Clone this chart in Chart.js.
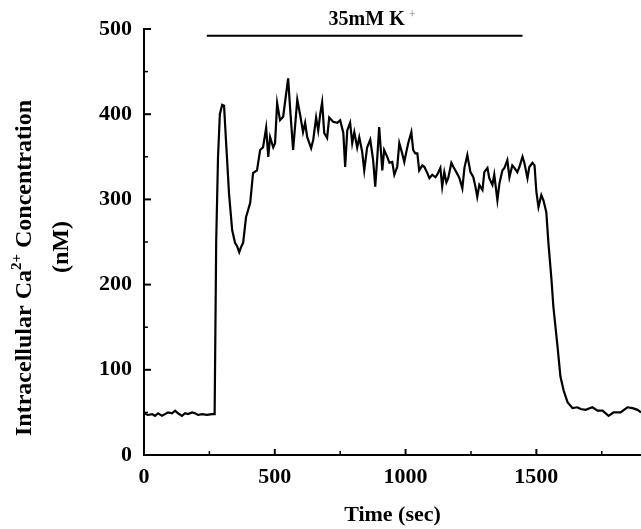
<!DOCTYPE html>
<html lang="en">
<head>
<meta charset="UTF-8" />
<title>Intracellular Ca2+ during 35mM K+</title>
<script src="https://cdn.jsdelivr.net/npm/chart.js"></script>
<style>
  body { margin: 0; background: #fff; }
  #wrap { width: 641px; height: 529px; }
</style>
</head>
<body>
<div id="wrap"><canvas id="caChart" width="641" height="529"></canvas></div>

<script>
  // trace: time (sec) and Ca2+ (nM), same order
  const timeSec = [
    0, 15, 31, 42, 54, 69, 80, 92, 107, 119,
    130, 145, 157, 168, 184, 195, 207, 222, 241, 260,
    270, 276, 283, 290, 299, 306, 314, 325, 337, 348,
    356, 364, 371, 379, 390, 406, 417, 432, 444, 455,
    467, 475, 482, 494, 501, 509, 520, 532, 551, 559,
    570, 586, 597, 608, 616, 624, 639, 647, 658, 666,
    674, 681, 689, 700, 708, 723, 739, 750, 762, 769,
    777, 788, 796, 804, 815, 823, 834, 842, 853, 865,
    876, 884, 892, 899, 911, 918, 930, 938, 949, 957,
    968, 976, 987, 995, 1003, 1010, 1022, 1029, 1037, 1045,
    1052, 1064, 1072, 1083, 1091, 1102, 1114, 1121, 1133, 1140,
    1148, 1156, 1163, 1175, 1183, 1194, 1206, 1217, 1225, 1236,
    1248, 1259, 1267, 1274, 1282, 1294, 1301, 1313, 1320, 1332,
    1339, 1351, 1359, 1370, 1378, 1389, 1397, 1408, 1416, 1427,
    1435, 1447, 1454, 1466, 1473, 1485, 1493, 1500, 1508, 1519,
    1527, 1538, 1546, 1558, 1565, 1581, 1592, 1604, 1619, 1638,
    1657, 1669, 1688, 1714, 1734, 1753, 1776, 1795, 1822, 1848,
    1868, 1887, 1900
  ];
  const caConc = [
    49, 47, 48, 46, 49, 46, 48, 50, 49, 52,
    49, 46, 49, 48, 50, 49, 47, 48, 47, 48,
    48, 250, 350, 400, 411, 410, 366, 307, 264, 249,
    245, 238, 244, 249, 279, 296, 331, 334, 358, 361,
    384, 350, 373, 361, 366, 413, 393, 397, 442, 405,
    358, 417, 399, 379, 390, 373, 360, 370, 396, 381,
    401, 414, 378, 372, 396, 391, 390, 393, 378, 338,
    381, 390, 366, 379, 361, 373, 356, 334, 361, 370,
    346, 315, 350, 385, 334, 358, 350, 343, 344, 329,
    338, 366, 354, 344, 356, 366, 379, 358, 354, 354,
    334, 340, 338, 331, 325, 329, 326, 329, 337, 315,
    332, 320, 325, 343, 338, 332, 325, 313, 337, 352,
    332, 326, 315, 303, 317, 311, 332, 337, 325, 317,
    329, 299, 319, 334, 337, 346, 326, 340, 337, 332,
    338, 350, 343, 325, 338, 343, 340, 309, 291, 305,
    299, 285, 249, 205, 174, 127, 92, 76, 62, 55,
    56, 54, 53, 56, 52, 52, 46, 50, 50, 56,
    55, 53, 50
  ];

  // 35 mM K+ application bar
  const stimulusTime = [240, 1447];
  const stimulusLevel = 492;

  const xTicks = [0, 500, 1000, 1500];
  const xMinorTicks = [250, 750, 1250, 1750];
  const yTicks = [0, 100, 200, 300, 400, 500];
  const yMinorTicks = [50, 150, 250, 350, 450];

  const serif = "'Liberation Serif', 'Times New Roman', serif";

  const tracePoints = timeSec.map((t, i) => ({ x: t, y: caConc[i] }));
  const stimulusPoints = stimulusTime.map(t => ({ x: t, y: stimulusLevel }));

  // small tick marks pointing into the plot
  const inwardTicks = {
    id: "inwardTicks",
    afterDraw(chart) {
      const { ctx, chartArea } = chart;
      const xs = chart.scales.x, ys = chart.scales.y;
      ctx.save();
      ctx.strokeStyle = "#000";
      const mark = (x1, y1, x2, y2, w) => {
        ctx.lineWidth = w;
        ctx.beginPath(); ctx.moveTo(x1, y1); ctx.lineTo(x2, y2); ctx.stroke();
      };
      xTicks.forEach(v => { const p = xs.getPixelForValue(v); mark(p, chartArea.bottom, p, chartArea.bottom - 6, 2); });
      xMinorTicks.forEach(v => { const p = xs.getPixelForValue(v); mark(p, chartArea.bottom, p, chartArea.bottom - 4, 1.5); });
      yTicks.forEach(v => { const p = ys.getPixelForValue(v); mark(chartArea.left, p, chartArea.left + 7, p, 2); });
      yMinorTicks.forEach(v => { const p = ys.getPixelForValue(v); mark(chartArea.left, p, chartArea.left + 4, p, 1.5); });
      ctx.restore();
    }
  };

  // y title with superscript, and the K+ label over the bar
  const extraText = {
    id: "extraText",
    afterDraw(chart) {
      const { ctx } = chart;
      const xs = chart.scales.x, ys = chart.scales.y;
      ctx.save();
      ctx.fillStyle = "#000";
      ctx.textBaseline = "middle";

      // rotated y title, two lines
      const big = "bold 24px " + serif, small = "bold 15px " + serif;
      ctx.save();
      ctx.translate(25, 268);
      ctx.rotate(-Math.PI / 2);
      const a = "Intracellular Ca", c = " Concentration";
      ctx.font = small; const wb = ctx.measureText("2+").width;
      ctx.font = big;
      const wa = ctx.measureText(a).width, wc = ctx.measureText(c).width;
      const x0 = -(wa + wb + wc) / 2;
      ctx.textAlign = "left";
      ctx.fillText(a, x0, 0);
      ctx.font = small; ctx.fillText("2+", x0 + wa, -8);
      ctx.font = big; ctx.fillText(c, x0 + wa + wb, 0);
      ctx.restore();

      ctx.save();
      ctx.translate(62, 247);
      ctx.rotate(-Math.PI / 2);
      ctx.font = big;
      ctx.textAlign = "center";
      ctx.fillText("(nM)", 0, 0);
      ctx.restore();

      // stimulus label
      const cx = (xs.getPixelForValue(stimulusTime[0]) + xs.getPixelForValue(stimulusTime[1])) / 2;
      const cy = ys.getPixelForValue(stimulusLevel) - 16;
      ctx.font = "bold 20px " + serif;
      const main = "35mM K";
      const wm = ctx.measureText(main).width;
      ctx.textAlign = "left";
      ctx.fillText(main, cx - wm / 2 + 2, cy);
      ctx.font = "12px " + serif;
      ctx.fillStyle = "#777";
      ctx.fillText("+", cx + wm / 2 + 6, cy - 5);
      ctx.restore();
    }
  };

  new Chart(document.getElementById("caChart"), {
    type: "line",
    data: {
      datasets: [
        {
          data: tracePoints,
          borderColor: "#000",
          borderWidth: 2.2,
          pointRadius: 0,
          tension: 0,
          fill: false
        },
        {
          data: stimulusPoints,
          borderColor: "#000",
          borderWidth: 2,
          pointRadius: 0,
          fill: false,
          clip: false
        }
      ]
    },
    options: {
      responsive: false,
      animation: false,
      layout: { padding: { top: 29, right: 0, left: 0, bottom: 0 } },
      plugins: { legend: { display: false }, tooltip: { enabled: false } },
      scales: {
        x: {
          type: "linear",
          min: 0,
          max: 1900,
          afterBuildTicks: s => { s.ticks = xTicks.map(v => ({ value: v })); },
          afterFit: s => { s.height = 74; },
          grid: { display: true, drawOnChartArea: false, drawTicks: false },
          border: { color: "#000", width: 2 },
          ticks: {
            color: "#000",
            padding: 9,
            maxRotation: 0,
            callback: v => String(v),
            font: { family: serif, size: 22, weight: "bold" }
          },
          title: {
            display: true,
            text: "Time (sec)",
            color: "#000",
            padding: { top: 0, bottom: 0 },
            font: { family: serif, size: 22, weight: "bold" }
          }
        },
        y: {
          min: 0,
          max: 500,
          afterBuildTicks: s => { s.ticks = yTicks.map(v => ({ value: v })); },
          afterFit: s => { s.width = 144; },
          grid: { display: true, drawOnChartArea: false, drawTicks: false },
          border: { color: "#000", width: 2 },
          ticks: {
            color: "#000",
            padding: 12,
            callback: v => String(v),
            font: { family: serif, size: 22, weight: "bold" }
          }
        }
      }
    },
    plugins: [inwardTicks, extraText]
  });
</script>
</body>
</html>
